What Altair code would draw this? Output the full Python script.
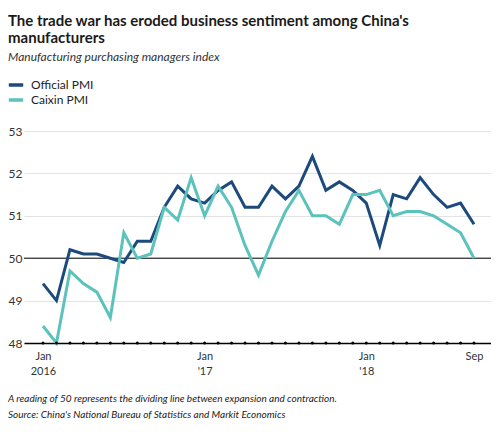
import altair as alt
import pandas as pd

months = ["Jan 2016", "Feb 2016", "Mar 2016", "Apr 2016", "May 2016", "Jun 2016",
          "Jul 2016", "Aug 2016", "Sep 2016", "Oct 2016", "Nov 2016", "Dec 2016",
          "Jan 2017", "Feb 2017", "Mar 2017", "Apr 2017", "May 2017", "Jun 2017",
          "Jul 2017", "Aug 2017", "Sep 2017", "Oct 2017", "Nov 2017", "Dec 2017",
          "Jan 2018", "Feb 2018", "Mar 2018", "Apr 2018", "May 2018", "Jun 2018",
          "Jul 2018", "Aug 2018", "Sep 2018"]
official = [49.4, 49.0, 50.2, 50.1, 50.1, 50.0, 49.9, 50.4, 50.4, 51.2, 51.7, 51.4,
            51.3, 51.6, 51.8, 51.2, 51.2, 51.7, 51.4, 51.7, 52.4, 51.6, 51.8, 51.6,
            51.3, 50.3, 51.5, 51.4, 51.9, 51.5, 51.2, 51.3, 50.8]
caixin = [48.4, 48.0, 49.7, 49.4, 49.2, 48.6, 50.6, 50.0, 50.1, 51.2, 50.9, 51.9,
          51.0, 51.7, 51.2, 50.3, 49.6, 50.4, 51.1, 51.6, 51.0, 51.0, 50.8, 51.5,
          51.5, 51.6, 51.0, 51.1, 51.1, 51.0, 50.8, 50.6, 50.0]
series_names = ["Official PMI", "Caixin PMI"]
series_colors = ["#1c4a7c", "#5cc2bc"]
tick_positions = [0, 12, 24, 32]
tick_labels = [["Jan", "2016"], ["Jan", "'17"], ["Jan", "'18"], ["Sep"]]
y_ticks = [48, 49, 50, 51, 52, 53]
title_lines = ["The trade war has eroded business sentiment among China's", "manufacturers"]
subtitle = "Manufacturing purchasing managers index"
notes = ["A reading of 50 represents the dividing line between expansion and contraction.",
         "Source: China's National Bureau of Statistics and Markit Economics"]

rows = []
for i, m in enumerate(months):
    rows.append({"i": i, "month": m, "series": series_names[0], "value": official[i]})
    rows.append({"i": i, "month": m, "series": series_names[1], "value": caixin[i]})
df = pd.DataFrame(rows)
dots = pd.DataFrame({"i": list(range(len(months))), "value": [48] * len(months)})


def js_arr(lst):
    return "[" + ",".join('"' + s + '"' for s in lst) + "]"


label_expr = ""
for p, lab in zip(tick_positions, tick_labels):
    label_expr += f"datum.value == {p} ? {js_arr(lab)} : "
label_expr += "''"

FONT = "Lato"
LEFT = -16
xscale = alt.Scale(domain=[-1.41, 33.26], nice=False, zero=False)
yscale = alt.Scale(domain=[48, 53], nice=False, zero=False)

lines = alt.Chart(df).mark_line(strokeWidth=3, strokeJoin="miter").encode(
    x=alt.X("i:Q", scale=xscale, title=None,
            axis=alt.Axis(values=tick_positions, labelExpr=label_expr, grid=False,
                          ticks=False, domainColor="#000", domainWidth=1.5,
                          labelFont=FONT, labelFontSize=11, labelColor="#333",
                          labelPadding=7, labelLineHeight=15, labelAlign="center")),
    y=alt.Y("value:Q", scale=yscale, title=None,
            axis=alt.Axis(values=y_ticks, grid=True, gridColor="#e3e3e3", domain=False,
                          ticks=False, labelFont=FONT, labelFontSize=12, labelColor="#333",
                          labelPadding=2)),
    color=alt.Color("series:N", sort=series_names,
                    scale=alt.Scale(domain=series_names, range=series_colors),
                    legend=alt.Legend(title=None, orient="none", legendX=LEFT, legendY=-54,
                                      symbolType="M-1.2,0H1.2", symbolSize=144,
                                      symbolStrokeWidth=3.5, labelFont=FONT,
                                      labelFontSize=12, labelColor="#222",
                                      labelOffset=7, rowPadding=-4)),
    detail="series:N",
)

rule50 = alt.Chart(pd.DataFrame({"v": [50]})).mark_rule(color="#000", strokeWidth=1).encode(
    y=alt.Y("v:Q", scale=yscale)
)

dot_marks = alt.Chart(dots).mark_circle(size=9, color="#000", opacity=1).encode(
    x=alt.X("i:Q", scale=xscale), y=alt.Y("value:Q", scale=yscale)
)

note1 = alt.Chart(pd.DataFrame({"t": [notes[0]]})).mark_text(
    align="left", baseline="alphabetic", font=FONT, fontSize=10, fontStyle="italic",
    color="#222").encode(x=alt.value(LEFT), y=alt.value(271), text="t:N")
note2 = alt.Chart(pd.DataFrame({"t": [notes[1]]})).mark_text(
    align="left", baseline="alphabetic", font=FONT, fontSize=10, fontStyle="italic",
    color="#222").encode(x=alt.value(LEFT), y=alt.value(287), text="t:N")

chart = alt.layer(rule50, lines, dot_marks, note1, note2).properties(
    width=467, height=212,
    autosize="none",
    padding={"left": 16, "top": 123, "right": 0, "bottom": 80},
    title=alt.TitleParams(text=title_lines, subtitle=subtitle, anchor="start", dx=LEFT,
                          font=FONT, fontSize=15, fontWeight="bold", color="#1a1a1a",
                          lineHeight=17, subtitleFont=FONT, subtitleFontStyle="italic",
                          subtitleFontSize=12, subtitleColor="#333", subtitlePadding=6,
                          offset=14, frame="group"),
).configure_view(stroke=None)

chart.save("out.html", embed_options={"renderer": "svg", "actions": False})
